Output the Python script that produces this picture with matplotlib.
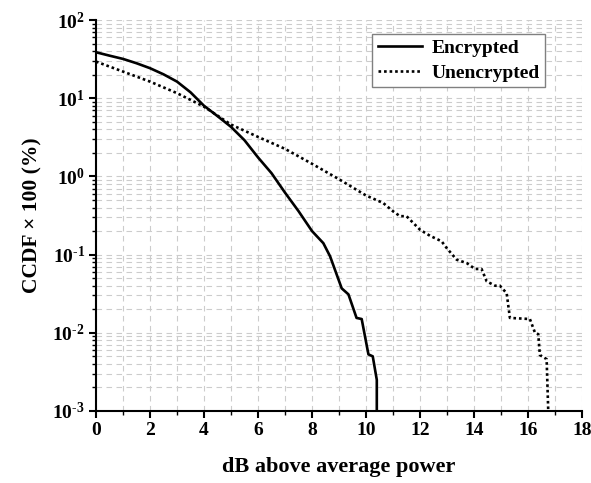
import math
import matplotlib
matplotlib.use("Agg")
import matplotlib.pyplot as plt
from matplotlib.ticker import LogLocator, FixedLocator, FuncFormatter, NullFormatter

plt.rcParams['font.family'] = ['Liberation Serif', 'DejaVu Serif']
plt.rcParams['font.weight'] = 'bold'
plt.rcParams['mathtext.fontset'] = 'custom'
plt.rcParams['mathtext.rm'] = 'Liberation Serif:bold'
plt.rcParams['mathtext.bf'] = 'Liberation Serif:bold'
plt.rcParams['mathtext.it'] = 'Liberation Serif:bold'
plt.rcParams['axes.unicode_minus'] = False

# Data (CCDF x 100, %)
enc_x = [0, 0.5, 1, 1.5, 2, 2.5, 3, 3.5, 4, 4.5, 5, 5.5, 6, 6.5, 7, 7.5, 8, 8.42, 8.67, 9.1, 9.35,
         9.65, 9.84, 10.09, 10.25, 10.4, 10.4]
enc_y = [38.7, 35.0, 31.8, 28.0, 24.2, 20.2, 16.3, 11.9, 8.0, 5.9, 4.3, 2.9, 1.75, 1.1, 0.62, 0.36,
         0.2, 0.14, 0.095, 0.037, 0.031, 0.0155, 0.015, 0.0053, 0.005, 0.0025, 0.001]

unenc_x = [0, 1, 2, 3, 4, 5, 6, 7, 8, 9, 10, 10.64, 11.01, 11.26, 11.5, 12.0, 12.37, 12.8, 12.99,
           13.36, 13.73, 14.04, 14.28, 14.47, 14.78, 14.96, 15.21, 15.33, 16.07, 16.26, 16.38,
           16.44, 16.69, 16.75]
unenc_y = [29.4, 21.9, 16.3, 11.6, 7.8, 4.6, 3.2, 2.25, 1.45, 0.92, 0.57, 0.456, 0.356, 0.31, 0.31,
           0.208, 0.174, 0.148, 0.121, 0.086, 0.078, 0.0655, 0.0655, 0.0455, 0.040, 0.040, 0.032,
           0.0155, 0.015, 0.010, 0.0096, 0.0052, 0.0046, 0.001]

labels = ["Encrypted", "Unencrypted"]
x_ticks = [0, 2, 4, 6, 8, 10, 12, 14, 16, 18]
x_minor = [1, 3, 5, 7, 9, 11, 13, 15, 17]

fig = plt.figure(figsize=(5.91, 4.83), dpi=100)
ax = fig.add_axes([96/591, 1-411/483, (582-96)/591, (411-20)/483])

ax.plot(enc_x, enc_y, color='black', lw=1.9, label=labels[0])
ax.plot(unenc_x, unenc_y, color='black', lw=1.9, linestyle=(0, (1, 1.1)), label=labels[1])

ax.set_yscale('log')
ax.set_xlim(0, 18)
ax.set_ylim(1e-3, 1e2)

ax.xaxis.set_major_locator(FixedLocator(x_ticks))
ax.xaxis.set_minor_locator(FixedLocator(x_minor))
ax.yaxis.set_major_locator(LogLocator(base=10, numticks=10))
ax.yaxis.set_minor_locator(LogLocator(base=10, subs=[2, 3, 4, 5, 6, 7, 8, 9], numticks=20))
ax.yaxis.set_minor_formatter(NullFormatter())

def yfmt(v, pos):
    e = int(round(math.log10(v)))
    if e < 0:
        return r'$10^{\text{-}%d}$' % (-e)
    return r'$10^{%d}$' % e
ax.yaxis.set_major_formatter(FuncFormatter(yfmt))

ax.grid(True, which='both', color='#cccccc', linestyle=(0, (5, 4)), linewidth=0.8)
ax.set_axisbelow(True)

for s in ['top', 'right']:
    ax.spines[s].set_visible(False)
for s in ['left', 'bottom']:
    ax.spines[s].set_linewidth(1.5)

ax.tick_params(which='major', direction='out', length=5, width=1.5, labelsize=14, pad=3)
ax.tick_params(which='minor', direction='out', length=3, width=1.0)
for lab in ax.get_xticklabels() + ax.get_yticklabels():
    lab.set_fontweight('bold')

ax.set_xlabel('dB above average power', fontsize=16, fontweight='bold', labelpad=13)
ax.set_ylabel('CCDF × 100 (%)', fontsize=15.5, fontweight='bold', labelpad=7)

leg = ax.legend(loc='upper right', bbox_to_anchor=(0.9245, 0.965), fontsize=14, frameon=True,
                fancybox=False, edgecolor='#808080', framealpha=1, handlelength=2.3,
                borderpad=0.3, labelspacing=0.35, handletextpad=0.45, borderaxespad=0)
leg.get_frame().set_linewidth(1.0)
for t in leg.get_texts():
    t.set_fontweight('bold')

fig.savefig('out.png', dpi=100)
